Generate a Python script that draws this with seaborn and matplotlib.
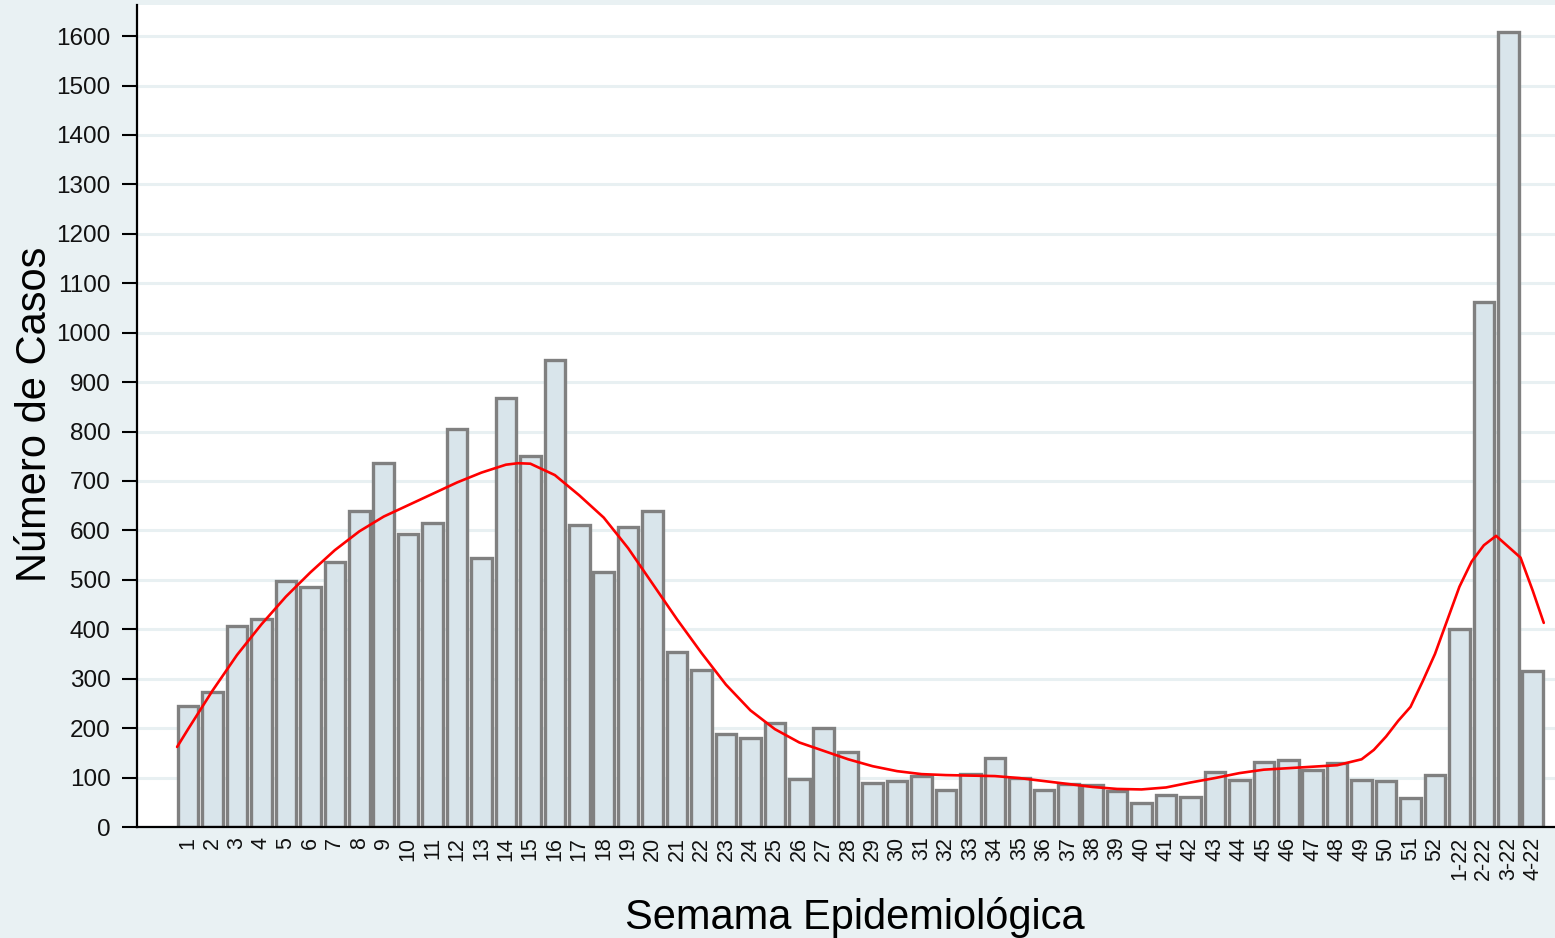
import numpy as np
import pandas as pd
import matplotlib
matplotlib.use("Agg")
import matplotlib.pyplot as plt
import seaborn as sns

# ---------------- data ----------------
weeks = [str(i) for i in range(1, 53)] + ["1-22", "2-22", "3-22", "4-22"]
cases = [245, 273, 407, 421, 498, 485, 536, 639, 736, 593,
         615, 805, 544, 868, 750, 945, 611, 516, 607, 639,
         354, 318, 188, 180, 210, 97, 200, 152, 89, 93,
         103, 75, 107, 140, 99, 75, 87, 85, 73, 49,
         65, 61, 111, 95, 131, 135, 115, 129, 95, 93,
         59, 105, 400, 1062, 1608, 316]

# smoothed trend (red line), positions in week-index units
trend_pos = [-0.45, 0, 1, 2, 3, 4, 5, 6, 7, 8, 9, 10, 11, 12, 13, 13.5, 14, 15, 16,
             17, 18, 19, 20, 21, 22, 23, 24, 25, 26, 27, 28, 29, 30, 31, 32, 33,
             34, 35, 36, 37, 38, 39, 40, 41, 42, 43, 44, 45, 46, 47, 48, 48.5,
             49, 49.5, 50, 50.5, 51, 51.5, 52, 52.5, 53, 53.5, 54, 54.5, 55, 55.45]
trend_val = [162, 198, 276, 348, 410, 466, 515, 560, 598, 628, 651, 674, 697, 717,
             733, 736, 735, 712, 671, 626, 564, 492, 420, 352, 288, 236, 198, 171,
             154, 137, 123, 113, 107, 105, 104, 103, 99, 93, 87, 81, 77, 76, 80,
             90, 99, 109, 116, 119, 122, 125, 137, 156, 183, 215, 243, 295, 350,
             418, 486, 537, 570, 589, 567, 545, 478, 413]

yticks = list(range(0, 1700, 100))

# ---------------- style ----------------
bg = "#e9f1f3"
bar_fill = "#d9e5eb"
bar_edge = "#808080"
grid_c = "#e8f0f2"

sns.set_theme(style="white")
plt.rcParams["font.family"] = ["Liberation Sans", "DejaVu Sans"]

fig = plt.figure(figsize=(15.55, 9.38), dpi=100, facecolor=bg)
ax = fig.add_axes([137 / 1555, (938 - 827) / 938, (1555 - 137) / 1555, (827 - 5) / 938])
ax.set_facecolor("white")

df = pd.DataFrame({"week": weeks, "cases": cases})
sns.barplot(data=df, x="week", y="cases", order=weeks, color=bar_fill,
            saturation=1, edgecolor=bar_edge, linewidth=2.4, width=0.84, ax=ax, zorder=2)

ax.plot(trend_pos, trend_val, color="red", lw=1.9, zorder=3,
        solid_joinstyle="round", solid_capstyle="round")

ax.set_xlim(-2.09, 55.91)
ax.set_ylim(0, 1663)
ax.set_yticks(yticks)
ax.set_yticklabels([str(v) for v in yticks], fontsize=17.5, color="#111111")
ax.set_xticks(range(len(weeks)))
ax.set_xticklabels(weeks, rotation=90, fontsize=15.5, va="top", ha="center",
                   color="#111111")

for y in yticks:
    ax.axhline(y, color=grid_c, lw=2.2, zorder=0)

ax.tick_params(axis="y", length=11, width=1.5, color="black", pad=8, left=True)
ax.tick_params(axis="x", length=0, pad=7)

for s in ["top", "right"]:
    ax.spines[s].set_visible(False)
for s in ["left", "bottom"]:
    ax.spines[s].set_visible(True)
    ax.spines[s].set_color("black")
    ax.spines[s].set_linewidth(1.6)
    ax.spines[s].set_zorder(4)

ax.set_xlabel("Semama Epidemiológica", fontsize=30, color="black")
ax.set_ylabel("Número de Casos", fontsize=30, color="black")
ax.xaxis.set_label_coords(0.5064, -0.0852)
ax.yaxis.set_label_coords(-0.0575, 0.502)

fig.savefig("out.png", dpi=100, facecolor=bg)
